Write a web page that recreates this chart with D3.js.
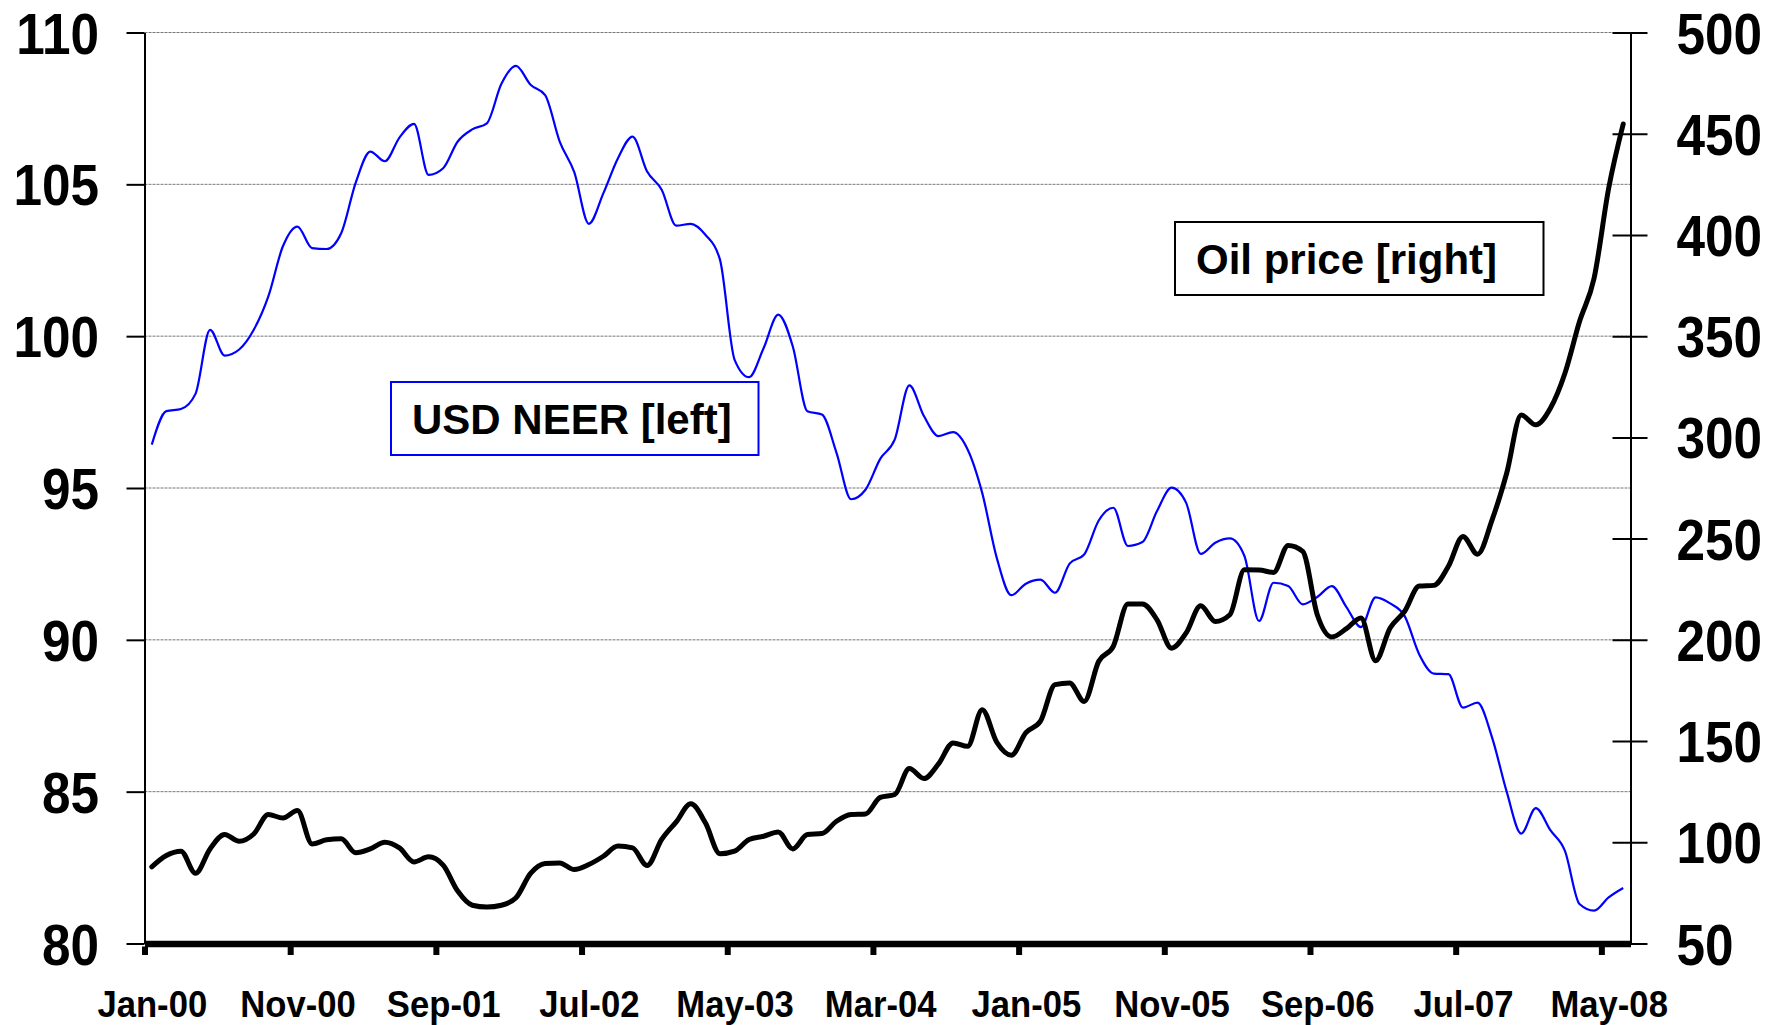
<!DOCTYPE html>
<html>
<head>
<meta charset="utf-8">
<script src="https://cdn.jsdelivr.net/npm/d3@7"></script>
<style>
  body { margin: 0; background: #fff; }
  svg { display: block; }
</style>
</head>
<body>
<div id="chart"></div>
<script>
// monthly readings, Jan-00 .. Jun-08 (102 months)
var startMonth = new Date(2000, 0, 1);
var months = d3.timeMonth.range(startMonth, new Date(2008, 6, 1));

// USD nominal effective exchange rate [left axis]
var usdNeer = [
    96.43, 97.53, 97.60, 98.10, 100.21, 99.36, 99.56, 100.21, 101.31, 102.96,
    103.61, 102.90, 102.87, 103.39, 105.06, 106.08, 105.76, 106.54, 106.99, 105.31,
    105.53, 106.41, 106.81, 107.01, 108.31, 108.90, 108.28, 107.94, 106.41, 105.40,
    103.70, 104.71, 105.86, 106.57, 105.42, 104.82, 103.64, 103.70, 103.34, 102.52,
    99.23, 98.65, 99.61, 100.71, 99.66, 97.53, 97.42, 96.16, 94.63, 94.95,
    95.96, 96.60, 98.38, 97.37, 96.71, 96.84, 96.27, 94.84, 92.70, 91.47,
    91.85, 91.98, 91.55, 92.51, 92.81, 93.93, 94.35, 93.09, 93.22, 94.24,
    95.01, 94.51, 92.83, 93.20, 93.34, 92.76, 90.62, 91.88, 91.77, 91.17,
    91.41, 91.77, 91.08, 90.42, 91.40, 91.20, 90.78, 89.52, 88.89, 88.87,
    87.77, 87.93, 86.78, 85.00, 83.62, 84.46, 83.73, 83.05, 81.30, 81.08,
    81.52, 81.83
];

// oil price [right axis]
var oilPrice = [
    87.9, 93.5, 95.6, 84.7, 96.7, 103.8, 100.5, 104.1, 113.7, 112.0,
    115.7, 99.2, 101.2, 101.7, 94.8, 96.7, 100.0, 97.2, 90.3, 92.8,
    88.7, 75.9, 68.9, 68.0, 68.9, 72.6, 84.6, 89.5, 89.8, 86.5,
    89.0, 93.1, 98.1, 97.2, 88.5, 101.4, 110.1, 119.0, 109.6, 94.3,
    95.6, 101.4, 103.0, 105.1, 96.7, 103.8, 104.3, 110.4, 113.7, 114.0,
    122.2, 123.6, 136.4, 131.5, 138.7, 149.1, 147.4, 165.5, 149.4, 143.0,
    154.2, 159.8, 177.9, 178.7, 169.6, 189.4, 196.8, 217.7, 217.7, 209.9,
    195.9, 203.4, 216.8, 209.1, 212.4, 234.6, 234.5, 233.3, 246.6, 243.7,
    212.4, 201.4, 205.5, 210.8, 189.7, 205.8, 214.1, 226.6, 226.9, 236.3,
    251.1, 242.3, 259.3, 282.3, 311.1, 306.2, 314.4, 331.7, 357.2, 378.6,
    423.0, 454.8
];

var xTickLabels = ["Jan-00", "Nov-00", "Sep-01", "Jul-02", "May-03", "Mar-04",
                   "Jan-05", "Nov-05", "Sep-06", "Jul-07", "May-08"];
var leftTicks = [80, 85, 90, 95, 100, 105, 110];
var rightTicks = [50, 100, 150, 200, 250, 300, 350, 400, 450, 500];
var seriesNames = ["USD NEER [left]", "Oil price [right]"];

var W = 1779, H = 1025;
var plot = {left: 144.5, right: 1630.5, top: 32.5, bottom: 943.5};

var svg = d3.select("#chart").append("svg")
    .attr("width", W)
    .attr("height", H);

svg.append("rect").attr("width", W).attr("height", H).attr("fill", "#fff");

var x = d3.scaleLinear().domain([0, months.length]).range([plot.left, plot.right]);
var yL = d3.scaleLinear().domain([80, 110]).range([plot.bottom, plot.top]);
var yR = d3.scaleLinear().domain([50, 500]).range([plot.bottom, plot.top]);

var labelFont = '"Liberation Sans", Arial, sans-serif';

// gridlines at left ticks
svg.append("g")
    .selectAll("line")
    .data(leftTicks.filter(function (d) { return d > 80; }))
    .enter().append("line")
    .attr("x1", plot.left)
    .attr("x2", plot.right)
    .attr("y1", function (d) { return yL(d); })
    .attr("y2", function (d) { return yL(d); })
    .attr("stroke", "#777")
    .attr("stroke-width", 1)
    .attr("stroke-dasharray", "3,1");

// lines - points sit mid-month
var lineL = d3.line()
    .x(function (d, i) { return x(i + 0.5); })
    .y(function (d) { return yL(d); })
    .curve(d3.curveMonotoneX);

var lineR = d3.line()
    .x(function (d, i) { return x(i + 0.5); })
    .y(function (d) { return yR(d); })
    .curve(d3.curveMonotoneX);

svg.append("path")
    .datum(usdNeer)
    .attr("fill", "none")
    .attr("stroke", "#0000ff")
    .attr("stroke-width", 2.2)
    .attr("stroke-linejoin", "round")
    .attr("d", lineL);

svg.append("path")
    .datum(oilPrice)
    .attr("fill", "none")
    .attr("stroke", "#000")
    .attr("stroke-width", 5)
    .attr("stroke-linejoin", "round")
    .attr("stroke-linecap", "round")
    .attr("d", lineR);

// the value labels are a condensed bold face; squeeze the regular one
var styleValueLabels = function (sel, dx, anchor) {
    sel.attr("x", 0)
        .attr("dy", "0.36em")
        .attr("text-anchor", anchor)
        .attr("transform", "translate(" + dx + ",0) scale(0.9,1)")
        .style("font-family", labelFont)
        .style("font-weight", "bold")
        .style("font-size", "57px")
        .attr("fill", "#000");
};

// left axis
var gL = svg.append("g")
    .attr("transform", "translate(" + plot.left + ",0)")
    .call(d3.axisLeft(yL).tickValues(leftTicks).tickSizeInner(18).tickSizeOuter(0).tickPadding(0));

gL.select(".domain").attr("stroke", "#000").attr("stroke-width", 2);
gL.selectAll(".tick line").attr("stroke", "#000").attr("stroke-width", 2);
styleValueLabels(gL.selectAll(".tick text"), -45.5, "end");

// right axis, ticks cross the line
var gR = svg.append("g")
    .attr("transform", "translate(" + plot.right + ",0)")
    .call(d3.axisRight(yR).tickValues(rightTicks).tickSizeInner(17).tickSizeOuter(0).tickPadding(0));

gR.select(".domain").attr("stroke", "#000").attr("stroke-width", 2);
gR.selectAll(".tick line").attr("x1", -18).attr("stroke", "#000").attr("stroke-width", 2);
styleValueLabels(gR.selectAll(".tick text"), 46, "start");

// bottom axis: thick line, stubby ticks, labels centred on the month
var gB = svg.append("g")
    .attr("transform", "translate(0," + plot.bottom + ")")
    .call(d3.axisBottom(x)
        .tickValues(d3.range(0, months.length, 10))
        .tickFormat(function (d, i) { return xTickLabels[i]; })
        .tickSizeInner(11.5)
        .tickSizeOuter(0));

gB.select(".domain").attr("stroke", "#000").attr("stroke-width", 6.5);
gB.selectAll(".tick line")
    .attr("y1", 3)
    .attr("stroke", "#000")
    .attr("stroke-width", 6);
gB.selectAll(".tick text")
    .attr("x", 0)
    .attr("y", 0)
    .attr("dy", 0)
    .attr("transform", "translate(" + (x(0.5) - x(0)) + ",73.5) scale(0.95,1)")
    .style("font-family", labelFont)
    .style("font-weight", "bold")
    .style("font-size", "36.5px")
    .attr("fill", "#000");

// legend boxes
var legends = [
    {name: seriesNames[0], color: "#0000ff", x: 391, y: 382, w: 367.5, h: 73},
    {name: seriesNames[1], color: "#000", x: 1175, y: 222, w: 368.5, h: 73}
];

var lg = svg.append("g").selectAll("g")
    .data(legends)
    .enter().append("g");

lg.append("rect")
    .attr("x", function (d) { return d.x; })
    .attr("y", function (d) { return d.y; })
    .attr("width", function (d) { return d.w; })
    .attr("height", function (d) { return d.h; })
    .attr("fill", "#fff")
    .attr("stroke", function (d) { return d.color; })
    .attr("stroke-width", 2);

lg.append("text")
    .attr("x", function (d) { return d.x + 21; })
    .attr("y", function (d) { return d.y + d.h / 2 + 15; })
    .style("font-family", labelFont)
    .style("font-weight", "bold")
    .style("font-size", "42px")
    .attr("fill", "#000")
    .text(function (d) { return d.name; });
</script>
</body>
</html>
